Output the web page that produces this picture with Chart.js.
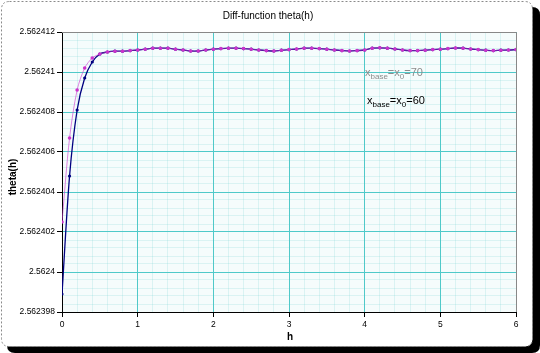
<!DOCTYPE html>
<html><head><meta charset="utf-8">
<script src="https://cdn.jsdelivr.net/npm/chart.js@4/dist/chart.umd.min.js"></script>
<style>html,body{margin:0;padding:0;background:#fff;}#wrap{width:540px;height:353px;position:relative;}canvas{display:block;}</style>
</head><body><div id="wrap"><canvas id="c" width="540" height="353"></canvas></div>
<script>
const chartTitle = 'Diff-function theta(h)';
const xAxisTitle = 'h';
const yAxisTitle = 'theta(h)';
const seriesX0 = ['70', '60'];

const hValues = [0,0.1,0.2,0.3,0.4,0.5,0.6,0.7,0.8,0.9,1,1.1,1.2,1.3,1.4,1.5,1.6,1.7,1.8,1.9,2,2.1,2.2,2.3,2.4,2.5,2.6,2.7,2.8,2.9,3,3.1,3.2,3.3,3.4,3.5,3.6,3.7,3.8,3.9,4,4.1,4.2,4.3,4.4,4.5,4.6,4.7,4.8,4.9,5,5.1,5.2,5.3,5.4,5.5,5.6,5.7,5.8,5.9,6];

const thetaX70 = [
2.5624025, 2.5624067, 2.5624091, 2.5624102, 2.5624107, 2.5624109, 2.5624110, 2.56241104, 2.56241104, 2.56241107,
2.5624111, 2.56241114, 2.56241119, 2.56241119, 2.56241119, 2.56241114, 2.5624111, 2.56241105, 2.56241105, 2.5624111,
2.56241114, 2.56241117, 2.56241119, 2.56241119, 2.56241117, 2.56241114, 2.5624111, 2.56241107, 2.56241105, 2.56241109,
2.56241112, 2.56241115, 2.56241119, 2.56241119, 2.56241117, 2.56241114, 2.5624111, 2.56241107, 2.56241105, 2.56241107,
2.5624111, 2.56241119, 2.56241121, 2.56241119, 2.56241115, 2.5624111, 2.56241107, 2.56241107, 2.56241109, 2.56241112,
2.56241114, 2.56241117, 2.5624112, 2.56241119, 2.56241115, 2.56241112, 2.56241109, 2.56241107, 2.56241109, 2.5624111,
2.56241112];

const thetaX60 = [
2.5623989, 2.5624048, 2.5624081, 2.5624097, 2.5624105, 2.5624109, 2.5624110, 2.56241104, 2.56241104, 2.56241107,
2.5624111, 2.56241114, 2.56241119, 2.56241119, 2.56241119, 2.56241114, 2.5624111, 2.56241105, 2.56241105, 2.5624111,
2.56241114, 2.56241117, 2.56241119, 2.56241119, 2.56241117, 2.56241114, 2.5624111, 2.56241107, 2.56241105, 2.56241109,
2.56241112, 2.56241115, 2.56241119, 2.56241119, 2.56241117, 2.56241114, 2.5624111, 2.56241107, 2.56241105, 2.56241107,
2.5624111, 2.56241119, 2.56241121, 2.56241119, 2.56241115, 2.5624111, 2.56241107, 2.56241107, 2.56241109, 2.56241112,
2.56241114, 2.56241117, 2.5624112, 2.56241119, 2.56241115, 2.56241112, 2.56241109, 2.56241107, 2.56241109, 2.5624111,
2.56241112];

const xTickLabels = ['0','1','2','3','4','5','6'];
const yTickLabels = ['2.562398','2.5624','2.562402','2.562404','2.562406','2.562408','2.56241','2.562412'];

const FONT = '"Liberation Sans", Arial, sans-serif';

function buildTicks(labels, sub) {
  const vals = labels.map(parseFloat);
  const out = [];
  for (let i = 0; i < vals.length; i++) {
    out.push({value: vals[i], lab: labels[i], isMajor: true});
    if (i < vals.length - 1) {
      for (let k = 1; k < sub; k++) {
        out.push({value: vals[i] + (vals[i+1] - vals[i]) * k / sub, lab: '', isMajor: false});
      }
    }
  }
  return out;
}

const gridColor = ctx => (ctx.tick && ctx.tick.isMajor) ? '#4fc9c9' : 'rgba(79,201,201,0.16)';
const tickColor = ctx => (ctx.tick && ctx.tick.isMajor) ? '#000000' : 'rgba(0,0,0,0)';

function drawSubText(ctx, x, y, parts, color) {
  ctx.save();
  ctx.fillStyle = color;
  ctx.textAlign = 'left';
  ctx.textBaseline = 'alphabetic';
  let cx = x;
  for (const [t, isSub] of parts) {
    ctx.font = (isSub ? '8px ' : '11px ') + FONT;
    ctx.fillText(t, cx, isSub ? y + 3 : y);
    cx += ctx.measureText(t).width;
  }
  ctx.restore();
}

function roundRect(ctx, x, y, w, h, r) {
  ctx.beginPath();
  ctx.moveTo(x + r, y);
  ctx.lineTo(x + w - r, y);
  ctx.quadraticCurveTo(x + w, y, x + w, y + r);
  ctx.lineTo(x + w, y + h - r);
  ctx.quadraticCurveTo(x + w, y + h, x + w - r, y + h);
  ctx.lineTo(x + r, y + h);
  ctx.quadraticCurveTo(x, y + h, x, y + h - r);
  ctx.lineTo(x, y + r);
  ctx.quadraticCurveTo(x, y, x + r, y);
  ctx.closePath();
}

const decor = {
  id: 'decor',
  beforeDraw(chart) {
    const ctx = chart.ctx;
    const a = chart.chartArea;
    ctx.save();
    ctx.fillStyle = '#ffffff';
    ctx.fillRect(0, 0, chart.width, chart.height);
    ctx.fillStyle = '#000000';
    roundRect(ctx, 7, 7, 533, 346, 8);
    ctx.fill();
    ctx.fillStyle = '#ffffff';
    roundRect(ctx, 1.5, 1.5, 531, 345, 8);
    ctx.fill();
    ctx.strokeStyle = '#8a8a8a';
    ctx.lineWidth = 1;
    ctx.setLineDash([2, 2]);
    ctx.stroke();
    ctx.setLineDash([]);
    ctx.fillStyle = '#f5fcfc';
    ctx.fillRect(a.left, a.top, a.right - a.left, a.bottom - a.top);
    ctx.restore();
  },
  afterDraw(chart) {
    const ctx = chart.ctx;
    const a = chart.chartArea;
    ctx.save();
    ctx.strokeStyle = '#888888';
    ctx.lineWidth = 1;
    ctx.beginPath();
    ctx.moveTo(a.left, a.top + 0.5);
    ctx.lineTo(a.right + 0.5, a.top + 0.5);
    ctx.lineTo(a.right + 0.5, a.bottom);
    ctx.stroke();

    ctx.fillStyle = '#000';
    ctx.font = '10px ' + FONT;
    ctx.textAlign = 'center';
    ctx.textBaseline = 'middle';
    ctx.fillText(chartTitle, 268, 16.5);

    ctx.font = 'bold 10px ' + FONT;
    ctx.fillText(xAxisTitle, 290, 337);
    ctx.save();
    ctx.translate(13.5, 177);
    ctx.rotate(-Math.PI / 2);
    ctx.fillText(yAxisTitle, 0, 0);
    ctx.restore();
    ctx.restore();

    drawSubText(ctx, 365, 75.5, [['x',0],['base',1],['=x',0],['0',1],['=' + seriesX0[0],0]], '#8c8c8c');
    drawSubText(ctx, 367, 103.5, [['x',0],['base',1],['=x',0],['0',1],['=' + seriesX0[1],0]], '#000000');
  }
};

new Chart(document.getElementById('c'), {
  type: 'line',
  data: {
    datasets: [
      {
        label: 'x0=' + seriesX0[0],
        data: hValues.map((h, i) => ({x: h, y: thetaX70[i]})),
        borderColor: 'rgba(204,51,204,0.6)',
        backgroundColor: '#cc33cc',
        borderWidth: 1,
        pointRadius: 1.8,
        pointBorderWidth: 0,
        pointBackgroundColor: '#cc33cc',
        tension: 0.3,
        order: 0
      },
      {
        label: 'x0=' + seriesX0[1],
        data: hValues.map((h, i) => ({x: h, y: thetaX60[i]})),
        borderColor: '#000080',
        backgroundColor: '#000080',
        borderWidth: 1.3,
        pointRadius: 1.6,
        pointBorderWidth: 0,
        pointBackgroundColor: '#000080',
        tension: 0.3,
        order: 1
      }
    ]
  },
  options: {
    responsive: false,
    animation: false,
    devicePixelRatio: 1,
    layout: {padding: {top: 32, right: 24, left: 0, bottom: 0}},
    plugins: {legend: {display: false}, tooltip: {enabled: false}, title: {display: false}},
    scales: {
      x: {
        type: 'linear', min: 0, max: 6,
        afterBuildTicks: s => { s.ticks = buildTicks(xTickLabels, 5); },
        afterFit: s => { s.height = 41; },
        ticks: {autoSkip: false, maxRotation: 0, padding: 3, color: '#000',
          font: {family: FONT, size: 8.5},
          callback: (v, i, t) => t[i].lab},
        grid: {color: gridColor, lineWidth: 1, drawTicks: true, tickLength: 5, tickColor: tickColor},
        border: {display: true, color: '#000', width: 1}
      },
      y: {
        type: 'linear', min: 2.562398, max: 2.562412,
        afterBuildTicks: s => { s.ticks = buildTicks(yTickLabels, 5); },
        afterFit: s => { s.width = 62; },
        ticks: {autoSkip: false, padding: 2, color: '#000',
          font: {family: FONT, size: 8.5},
          callback: (v, i, t) => t[i].lab},
        grid: {color: gridColor, lineWidth: 1, drawTicks: true, tickLength: 5, tickColor: tickColor},
        border: {display: true, color: '#000', width: 1}
      }
    }
  },
  plugins: [decor]
});
</script></body></html>
